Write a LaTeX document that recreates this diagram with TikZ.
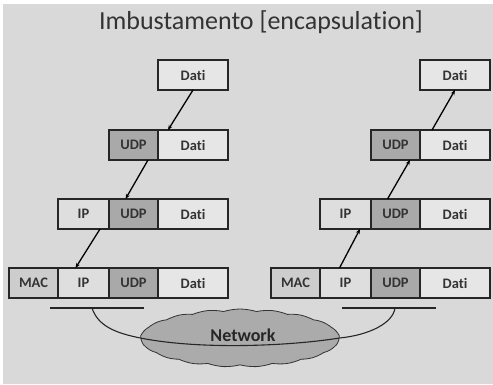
\documentclass[tikz,border=0pt]{standalone}
\usepackage{fontspec}
\setmainfont{Carlito}[Ligatures=NoCommon]
\usetikzlibrary{positioning,shapes.symbols,arrows.meta}
\definecolor{bgcol}{HTML}{D9D9D9}
\definecolor{daticol}{HTML}{E6E6E6}
\definecolor{ipcol}{HTML}{DEDEDE}
\definecolor{maccol}{HTML}{CDCDCD}
\definecolor{udpcol}{HTML}{A9A9A9}
\definecolor{netcol}{HTML}{ABABAB}
\tikzset{
	cell/.style={draw=black!85, line width=1.7pt, minimum height=30pt, inner sep=0pt, outer sep=0pt, text=black!80, font=\bfseries\fontsize{14.5}{14.5}\selectfont},
	datibox/.style={cell, fill=daticol, minimum width=70pt},
	udpbox/.style={cell, fill=udpcol, minimum width=49pt},
	ipbox/.style={cell, fill=ipcol, minimum width=51pt},
	macbox/.style={cell, fill=maccol, minimum width=49pt},
	link/.style={line width=1.3pt, -{Stealth[length=5pt,width=4pt]}},
	wire/.style={line width=1.1pt, black!85},
	netcloud/.style={cloud, cloud puffs=19, cloud puff arc=35, aspect=3.4, draw=black!80, line width=0.8pt, fill=netcol, minimum width=198pt, minimum height=58pt, inner sep=0pt}
}

\begin{document}
\begin{tikzpicture}[x=1pt, y=-1pt]
					%FRAME
					\useasboundingbox (0,0) rectangle (493,384);
					\fill[bgcol] (3,4) rectangle (493,384);
					\node[font=\fontsize{26}{28}\selectfont, text=black!80] (title) at (261,22) {Imbustamento [encapsulation]};
					%STACKS
					\foreach \s/\x in {L/193, R/455} {
						\node[datibox] (datiA\s) at (\x,75) {Dati};
						\node[datibox] (datiB\s) at (\x,145) {Dati};
						\node[udpbox, left=0pt of datiB\s] (udpB\s) {UDP};
						\node[datibox] (datiC\s) at (\x,214) {Dati};
						\node[udpbox, left=0pt of datiC\s] (udpC\s) {UDP};
						\node[ipbox, left=0pt of udpC\s] (ipC\s) {IP};
						\node[datibox] (datiD\s) at (\x,283) {Dati};
						\node[udpbox, left=0pt of datiD\s] (udpD\s) {UDP};
						\node[ipbox, left=0pt of udpD\s] (ipD\s) {IP};
						\node[macbox, left=0pt of ipD\s] (macD\s) {MAC};
					}
					%DOWN
					\draw[link] (datiAL.south) -- ([xshift=10pt]datiBL.north west);
					\draw[link] ([xshift=-10pt]udpBL.south east) -- ([xshift=-8pt]udpCL.north);
					\draw[link] ([xshift=-9pt]ipCL.south east) -- ([xshift=-8pt]ipDL.north);
					%UP
					\draw[link] ([xshift=-6pt]ipDR.north) -- ([xshift=-11pt]ipCR.south east);
					\draw[link] ([xshift=-8pt]udpCR.north) -- ([xshift=-10pt]udpBR.south east);
					\draw[link] ([xshift=12pt]datiBR.north west) -- (datiAR.south);
					%NETWORK
					\coordinate (busLa) at (50,308);
					\coordinate (busLb) at (144,308);
					\coordinate (tapL) at (92,308);
					\coordinate (busRa) at (342,308);
					\coordinate (busRb) at (436,308);
					\coordinate (tapR) at (395,308);
					\draw[wire] (busLa) -- (busLb);
					\draw[wire] (busRa) -- (busRb);
					\node[netcloud] (net) at (240,338) {};
					\draw[wire] (tapL) .. controls +(6,18) and +(-25,-5) .. (net.west);
					\draw[wire] (net.west) .. controls +(60,12) and +(-50,8) .. (net.east);
					\draw[wire] (net.east) .. controls +(30,-3) and +(-2,15) .. (tapR);
					\node[font=\bfseries\fontsize{18}{18}\selectfont, text=black!85] (netlabel) at (243,335) {Network};
\end{tikzpicture}
\end{document}
